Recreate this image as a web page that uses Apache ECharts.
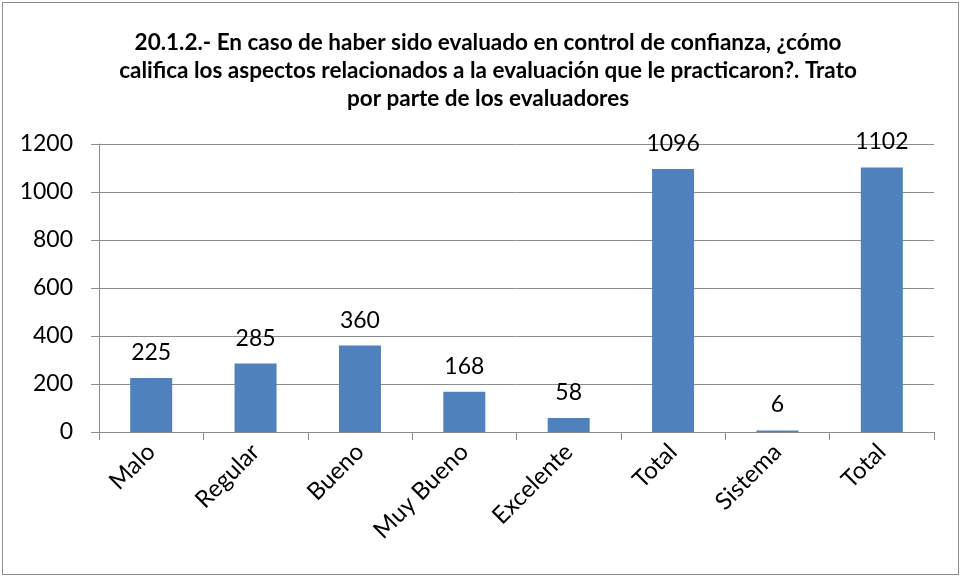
<!DOCTYPE html>
<html>
<head>
<meta charset="utf-8">
<script src="https://cdn.jsdelivr.net/npm/echarts@6/dist/echarts.min.js"></script>
<style>
  html, body { margin: 0; padding: 0; background: #fff; }
  #main { position: absolute; left: 0; top: 0; width: 961px; height: 577px; }
  #frame { position: absolute; left: 2px; top: 2px; width: 955px; height: 571px; border: 1px solid #8c8c8c; pointer-events: none; }
</style>
</head>
<body>
<div id="main"></div>
<div id="frame"></div>
<script>
const titleText = "20.1.2.- En caso de haber sido evaluado en control de confianza, ¿cómo\ncalifica los aspectos relacionados a la evaluación que le practicaron?. Trato\npor parte de los evaluadores";
const categories = ["Malo", "Regular", "Bueno", "Muy Bueno", "Excelente", "Total", "Sistema", "Total"];
const values = [225, 285, 360, 168, 58, 1096, 6, 1102];

var myChart = echarts.init(document.getElementById("main"));
myChart.setOption({
  animation: false,
  textStyle: { fontFamily: "Lato" },
  title: {
    text: titleText,
    left: 483,
    top: 24,
    textAlign: "center",
    textStyle: {
      fontFamily: "Lato",
      fontWeight: "bold",
      fontSize: 22.5,
      lineHeight: 28,
      color: "#000",
    },
  },
  grid: {
    left: 99,
    right: 27,
    top: 144,
    bottom: 145,
  },
  xAxis: {
    type: "category",
    data: categories,
    axisLine: { lineStyle: { color: "#8c8c8c", width: 1 } },
    axisTick: { show: true, length: 8, lineStyle: { color: "#8c8c8c" } },
    axisLabel: {
      rotate: 45,
      interval: 0,
      fontSize: 24,
      color: "#000",
      margin: 16,
    },
  },
  yAxis: {
    type: "value",
    min: 0,
    max: 1200,
    interval: 200,
    axisLine: { show: true, lineStyle: { color: "#8c8c8c" } },
    axisTick: { show: true, length: 8, lineStyle: { color: "#8c8c8c" } },
    splitLine: { lineStyle: { color: "#8c8c8c" } },
    axisLabel: {
      fontSize: 23,
      color: "#000",
      margin: 26,
      formatter: function (v) { return String(v); },
    },
  },
  series: [
    {
      type: "bar",
      data: values,
      barWidth: 42,
      itemStyle: { color: "#4F81BD" },
      label: {
        show: true,
        position: "top",
        distance: 14,
        fontSize: 23,
        color: "#000",
      },
    },
  ],
});
</script>
</body>
</html>
